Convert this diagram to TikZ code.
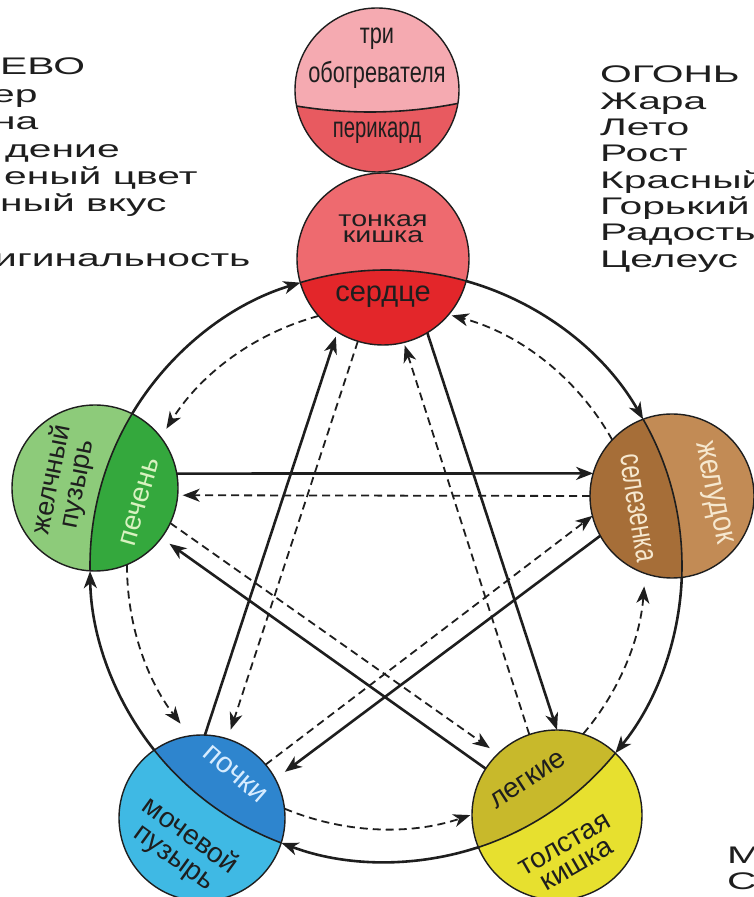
\documentclass[tikz,border=0pt]{standalone}
\usepackage{graphicx}
\usepackage{fontspec}
\setmainfont{Liberation Sans}
\usetikzlibrary{arrows.meta}
\definecolor{triU}{HTML}{F5AAB1}
\definecolor{triL}{HTML}{E85A60}
\definecolor{heaU}{HTML}{EE6A6F}
\definecolor{heaL}{HTML}{E3262A}
\definecolor{livO}{HTML}{8DCB7A}
\definecolor{livI}{HTML}{34A83D}
\definecolor{splO}{HTML}{C28B55}
\definecolor{splI}{HTML}{A66E38}
\definecolor{kidO}{HTML}{3FB9E4}
\definecolor{kidI}{HTML}{2E85CE}
\definecolor{lunO}{HTML}{E7E02F}
\definecolor{lunI}{HTML}{C8B92B}
\definecolor{ink}{HTML}{1E1E1E}
\definecolor{lightgreen}{HTML}{D8F2C0}
\definecolor{cream}{HTML}{F6E8CF}
\definecolor{paleblue}{HTML}{D6ECFF}
\newcommand\organdisk[5]{%
  \begin{scope}
    \clip (#1,#2) circle[radius=#3];
    \fill[#4] (#1,#2) circle[radius=#3];
    \fill[#5] (O) circle[radius=296];
    \draw[ink, line width=1.6pt] (O) circle[radius=296];
  \end{scope}}
\newcommand\sidefont{\fontsize{24}{24}\selectfont}
\newcommand\wide[1]{\scalebox{1.7}[1]{#1}}
\begin{document}
\begin{tikzpicture}[x=1pt,y=1pt,
  tip/.style={-{Stealth[length=17pt,width=13pt,inset=5pt]}},
  solidarrow/.style={ink, line width=2.6pt, tip},
  dasharrow/.style={ink, line width=1.8pt, dash pattern=on 8pt off 5pt, tip},
  organ/.style={circle, draw=ink, line width=1.4pt, inner sep=0pt, outer sep=0pt, minimum size=#1},
  lbl/.style={inner sep=0pt, align=center},
  sidetxt/.style={anchor=base west, inner sep=0pt, font=\sidefont, text=ink}]
\useasboundingbox (0,0) rectangle (754,897);
\clip (0,0) rectangle (754,897);
\fill[white] (0,0) rectangle (754,897);
\coordinate (O) at (386,331);

% top circle
\begin{scope}
  \clip (377,807) circle[radius=82];
  \fill[triL] (377,807) circle[radius=82];
  \fill[triU] (370,1235) circle[radius=450];
  \draw[ink, line width=1.6pt] (370,1235) circle[radius=450];
\end{scope}
\node[organ=164pt] (tri) at (377,807) {};

\organdisk{383}{638}{86}{heaU}{heaL}
\node[organ=172pt] (hea) at (383,638) {};
\organdisk{95}{409}{83}{livO}{livI}
\node[organ=166pt] (liv) at (95,409) {};
\organdisk{672}{401}{82}{splO}{splI}
\node[organ=164pt] (spl) at (672,401) {};
\organdisk{202}{79}{83}{kidO}{kidI}
\node[organ=166pt] (kid) at (202,79) {};
\organdisk{557}{82}{85}{lunO}{lunI}
\node[organ=170pt] (lun) at (557,82) {};

% labels
\node[lbl, font=\fontsize{29}{29}\selectfont, text=ink] (triA) at (377,858) {\scalebox{0.75}[1]{три}};
\node[lbl, font=\fontsize{29}{29}\selectfont, text=ink] (triB) at (377,822) {\scalebox{0.75}[1]{обогревателя}};
\node[lbl, font=\fontsize{29}{29}\selectfont, text=ink] (triC) at (377,764) {\scalebox{0.7}[1]{перикард}};
\node[lbl, font=\fontsize{22}{16}\selectfont, text=ink] (heaA) at (383,668) {\scalebox{1.3}[1]{тонкая}\\\scalebox{1.3}[1]{кишка}};
\node[lbl, font=\fontsize{29}{29}\selectfont, text=ink] (heaB) at (383,600) {сердце};
\node[lbl, rotate=79, font=\fontsize{27}{26}\selectfont, text=ink] (livA) at (65,415) {желчный\\пузырь};
\node[lbl, rotate=74, font=\fontsize{28}{28}\selectfont, text=lightgreen] (livB) at (140,395) {печень};
\node[lbl, rotate=-81, font=\fontsize{32}{32}\selectfont, text=cream] (splA) at (637,389) {\scalebox{0.72}[1]{селезенка}};
\node[lbl, rotate=-78, font=\fontsize{32}{32}\selectfont, text=cream] (splB) at (712,404) {\scalebox{0.85}[1]{желудок}};
\node[lbl, rotate=-41, font=\fontsize{29}{29}\selectfont, text=paleblue] (kidA) at (235,123) {почки};
\node[lbl, rotate=-36, font=\fontsize{28}{27}\selectfont, text=ink] (kidB) at (182,50) {мочевой\\пузырь};
\node[lbl, rotate=33, font=\fontsize{28}{28}\selectfont, text=ink] (lunA) at (528,117) {легкие};
\node[lbl, rotate=30, font=\fontsize{28}{24}\selectfont, text=ink] (lunB) at (571,42) {толстая\\кишка};

% outer generating cycle
\draw[solidarrow] ([shift={(149:296)}]O) arc[start angle=149, end angle=106.8, radius=296];
\draw[solidarrow] ([shift={(74.3:296)}]O) arc[start angle=74.3, end angle=29.7, radius=296];
\draw[solidarrow] ([shift={(-2.2:296)}]O) arc[start angle=-2.2, end angle=-39.2, radius=296];
\draw[solidarrow] ([shift={(-71.8:296)}]O) arc[start angle=-71.8, end angle=-110.7, radius=296];
\draw[solidarrow] ([shift={(218.5:296)}]O) arc[start angle=218.5, end angle=181, radius=296];
% outer dashed cycle
\draw[dasharrow] ([shift={(105.1:259)}]O) arc[start angle=105.1, end angle=148, radius=259];
\draw[dasharrow] ([shift={(29.1:259)}]O) arc[start angle=29.1, end angle=75.3, radius=259];
\draw[dasharrow] ([shift={(-40.4:259)}]O) arc[start angle=-40.4, end angle=-4.5, radius=259];
\draw[dasharrow] ([shift={(-112.7:263)}]O) arc[start angle=-112.7, end angle=-71.3, radius=263];
\draw[dasharrow] ([shift={(179.7:259)}]O) arc[start angle=179.7, end angle=217.5, radius=259];
% star
\draw[solidarrow, shorten >=5pt] (kid.88) -- (hea.-122);
\draw[solidarrow] (hea.-59) -- (lun.90);
\draw[solidarrow, shorten >=10pt] (lun.147) -- (liv.-37);
\draw[solidarrow] (liv.10) -- (spl.164);
\draw[solidarrow, shorten >=12pt] (spl.209) -- (kid.28);
\draw[dasharrow, shorten >=5pt] (spl.180) -- (liv.-5);
\draw[dasharrow] (kid.40) -- (spl.194);
\draw[dasharrow, shorten >=10pt] (hea.-107) -- (kid.72);
\draw[dasharrow, shorten >=3pt] (lun.109) -- (hea.-76);
\draw[dasharrow, shorten >=10pt] (liv.-25) -- (lun.134);

% side texts
\foreach \t [count=\i] in {ОГОНЬ,Жара,Лето,Рост,Красный,Горький,Радость,Целеус}
  \node[sidetxt] (r\i) at (600,{840.3-26.3*\i}) {\wide{\t}};
\node[sidetxt] (l1) at (0,822) {\wide{ЕВО}};
\node[sidetxt] (l2) at (-8,794.6) {\wide{ер}};
\node[sidetxt] (l3) at (-7,767.2) {\wide{на}};
\node[sidetxt] (l4) at (5,739.8) {\wide{дение}};
\node[sidetxt] (l5) at (4,712.4) {\wide{еный цвет}};
\node[sidetxt] (l6) at (0,685) {\wide{ный вкус}};
\node[sidetxt] (l7) at (-6,630.2) {\wide{игинальность}};
\node[sidetxt] (m1) at (727,34) {\wide{М}};
\node[sidetxt] (m2) at (727,7) {\wide{С}};
\end{tikzpicture}
\end{document}
